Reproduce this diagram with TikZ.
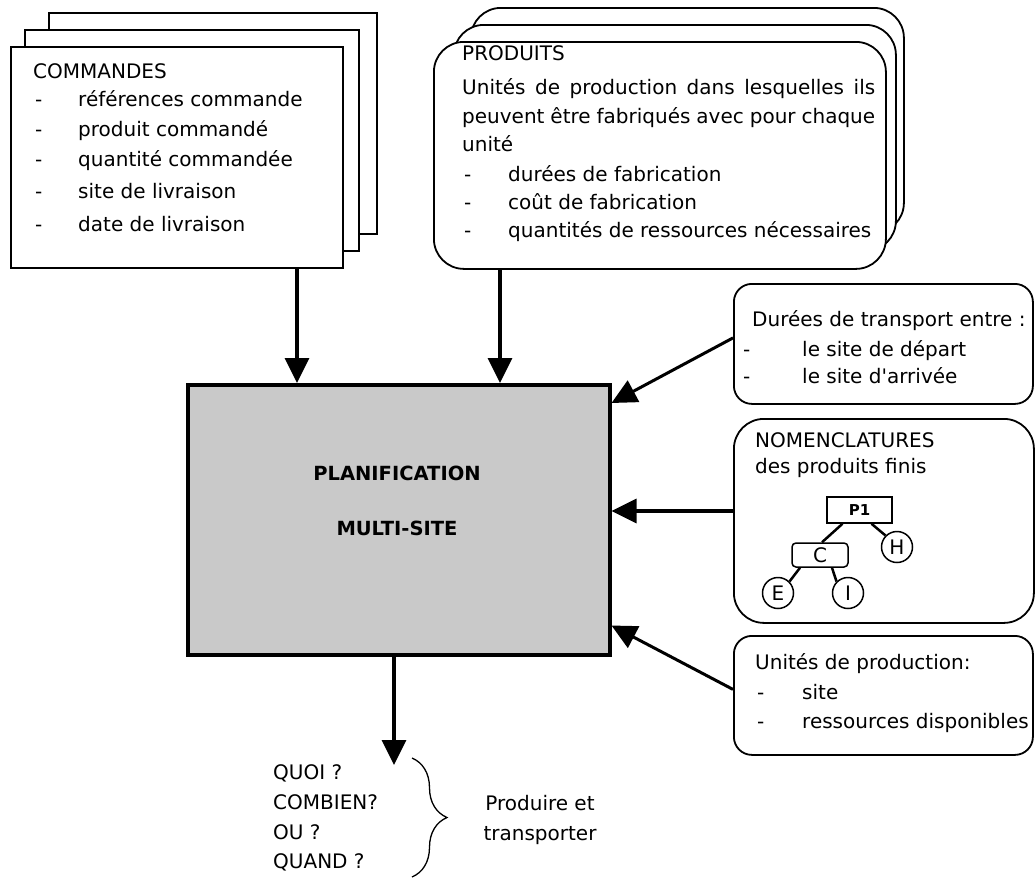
\documentclass[tikz,border=0pt]{standalone}
\usepackage{fontspec}
\setmainfont{DejaVu Sans}
\usetikzlibrary{arrows.meta,decorations.pathreplacing}
\newcommand\fs{\fontsize{20pt}{24pt}\selectfont}
\begin{document}
\begin{tikzpicture}[x=1pt,y=-1pt,
  sheet/.style={draw, line width=2pt, fill=white, anchor=north west, inner sep=0pt},
  rbox/.style={draw, line width=1.8pt, fill=white, rounded corners=#1, anchor=north west, inner sep=0pt},
  rbox/.default=18pt,
  txt/.style={font=\fs, inner sep=0pt, anchor=base west},
  arr/.style={line width=3.5pt, -{Triangle[length=25pt,width=24pt]}},
  arrd/.style={line width=3pt, -{Triangle[length=25pt,width=24pt]}},
  treebox/.style={draw, line width=1.5pt, inner sep=0pt},
  treeline/.style={line width=2.5pt},
  leaf/.style={draw, circle, line width=1.5pt, minimum size=31pt, inner sep=0pt, font=\fontsize{20pt}{22pt}\selectfont}
]
\useasboundingbox (0,0) rectangle (1036,878);

% ---------- COMMANDES stack ----------
\node[sheet, minimum width=328pt, minimum height=221pt] (cmdA) at (48,12) {};
\node[sheet, minimum width=334pt, minimum height=221pt] (cmdB) at (24,29) {};
\node[sheet, minimum width=332pt, minimum height=221pt] (cmd) at (10,46) {};
\node[txt] (t1) at (33,78) {COMMANDES};
\foreach \y/\s [count=\i] in {106/références commande,136/produit commandé,166/quantité commandée,198/site de livraison,231/date de livraison}{
  \node[txt] (cd\i) at (35,\y) {-};
  \node[txt] (ct\i) at (78,\y) {\s};
}

% ---------- PRODUITS stack ----------
\node[rbox=30pt, minimum width=433pt, minimum height=225pt] (prA) at (470,7) {};
\node[rbox=30pt, minimum width=442pt, minimum height=226pt] (prB) at (453,24) {};
\node[rbox=30pt, minimum width=452pt, minimum height=227pt] (pr) at (433,41) {};
\node[txt] (p0) at (462,60) {PRODUITS};
\node[txt] (p1l) at (462,94) {\makebox[413pt][s]{Unités de production dans lesquelles ils}};
\node[txt] (p2l) at (462,123) {\makebox[413pt][s]{peuvent être fabriqués avec pour chaque}};
\node[txt] (p3l) at (462,151) {unité};
\foreach \y/\s [count=\i] in {181/durées de fabrication,209/coût de fabrication,237/quantités de ressources nécessaires}{
  \node[txt] (pd\i) at (464,\y) {-};
  \node[txt] (pt\i) at (508,\y) {\s};
}

% ---------- Durées de transport ----------
\node[rbox=18pt, minimum width=299pt, minimum height=120pt] (dur) at (733,283) {};
\node[txt] (d0) at (752,326) {Durées de transport entre :};
\node[txt] (dd1) at (743,356) {-};
\node[txt] (dt1) at (802,356) {le site de départ};
\node[txt] (dd2) at (743,383) {-};
\node[txt] (dt2) at (802,383) {le site d\textquotesingle arrivée};

% ---------- NOMENCLATURES ----------
\node[rbox=30pt, minimum width=300pt, minimum height=204pt] (nom) at (733,418) {};
\node[txt] (n0) at (755,447) {NOMENCLATURES};
\node[txt] (n1) at (755,473) {des produits finis};
\node[treebox, minimum width=65pt, minimum height=26pt, font=\bfseries\fontsize{15pt}{17pt}\selectfont] (tp) at (859.5,510) {P1};
\node[treebox, rounded corners=4pt, minimum width=56pt, minimum height=24pt, font=\fontsize{20pt}{22pt}\selectfont] (tc) at (820,555) {C};
\node[leaf] (th) at (897,547) {H};
\node[leaf] (te) at (778,593) {E};
\node[leaf] (ti) at (848,593) {I};
\draw[treeline] ([xshift=-17pt]tp.south) -- ([xshift=2pt]tc.north);
\draw[treeline] ([xshift=12pt]tp.south) -- (th.north west);
\draw[treeline] ([xshift=-20pt]tc.south) -- (te.north east);
\draw[treeline] ([xshift=12pt]tc.south) -- (ti.north west);

% ---------- Unités de production ----------
\node[rbox=18pt, minimum width=299pt, minimum height=119pt] (uni) at (733,635) {};
\node[txt] (u0) at (755,669) {Unités de production:};
\node[txt] (ud1) at (757,699) {-};
\node[txt] (ut1) at (802,699) {site};
\node[txt] (ud2) at (757,728) {-};
\node[txt] (ut2) at (802,728) {ressources disponibles};

% ---------- Central box ----------
\node[draw, line width=3.5pt, fill=black!21, anchor=north west, minimum width=422pt, minimum height=270pt, inner sep=0pt] (plan) at (186,383) {};
\node[font=\bfseries\fontsize{19.5pt}{22pt}\selectfont, inner sep=0pt] (pl1) at (397,473) {PLANIFICATION};
\node[font=\bfseries\fontsize{19.5pt}{22pt}\selectfont, inner sep=0pt] (pl2) at (397,528) {MULTI-SITE};

% ---------- connectors ----------
\coordinate (xa) at (297,0);
\coordinate (xb) at (500,0);
\coordinate (yn) at (0,511);
\coordinate (xq) at (394,0);
\coordinate (qtip) at (394,765);
\draw[arr] (cmd.south -| xa) -- (plan.north -| xa);
\draw[arr] (pr.south -| xb) -- (plan.north -| xb);
\draw[arrd] ([yshift=6pt]dur.west) -- ([yshift=-20pt]plan.north east);
\draw[arr] (nom.west |- yn) -- (plan.east |- yn);
\draw[arrd] ([yshift=6pt]uni.west) -- ([yshift=31pt]plan.south east);
\draw[arr] (plan.south -| xq) -- (qtip);

% ---------- outputs ----------
\node[txt] (q1) at (273,779) {QUOI ?};
\node[txt] (q2) at (273,809) {COMBIEN?};
\node[txt] (q3) at (273,839) {OU ?};
\node[txt] (q4) at (273,868) {QUAND ?};
\coordinate (b1) at (412,758);
\coordinate (b2) at (412,877);
\draw[line width=1.3pt, decorate, decoration={brace, amplitude=35pt}] (b1) -- (b2);
\node[font=\fs, align=center, inner sep=0pt] (pt) at (540,820) {Produire et\\[6pt]transporter};
\end{tikzpicture}
\end{document}
